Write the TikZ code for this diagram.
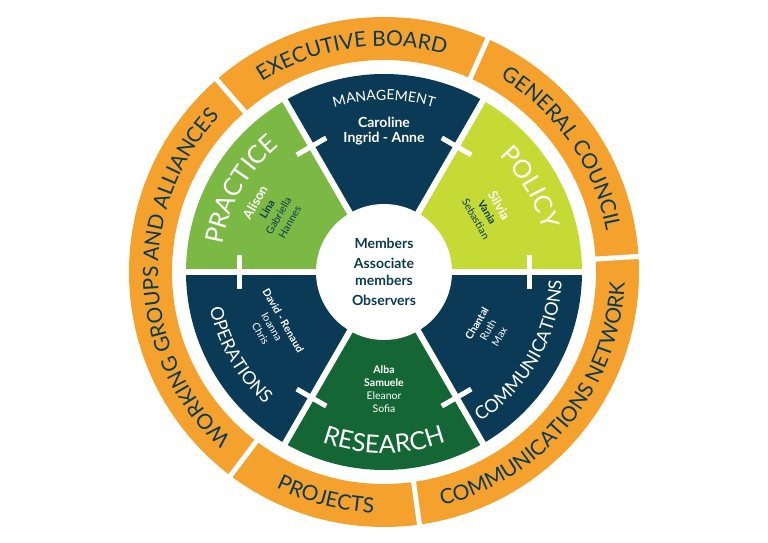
\documentclass[tikz,border=0pt]{standalone}
\usepackage{fontspec}
\setmainfont{Lato}
\usetikzlibrary{decorations.text}
\definecolor{ringorange}{HTML}{F5A12E}
\definecolor{navy}{HTML}{0B3A56}
\definecolor{leafgreen}{HTML}{7BB944}
\definecolor{lime}{HTML}{C6DA35}
\definecolor{forest}{HTML}{146634}
\tikzset{
    ringtext/.style={decorate, decoration={text along path, text align=center,
        text={|\color{navy}\fontsize{21}{21}\selectfont|#1}}},
    sectortext/.style 2 args={decorate, decoration={text along path, text align=center,
        text={|\color{white}\fontsize{#1}{#1}\selectfont|#2}}},
    names/.style={align=center, font=\fontsize{10.5}{13}\selectfont, inner sep=0pt},
    gapline/.style={white, line width=5pt},
    crossbar/.style={white, line width=5pt}
}
\begin{document}
\begin{tikzpicture}[x=1pt, y=1pt]
    \useasboundingbox (0,0) rectangle (768,543);
    \coordinate (C) at (384,271);
    % outer ring
    \fill[ringorange, even odd rule] (C) circle[radius=255] (C) circle[radius=212];
    \foreach \a in {131,66,3.5,-82,233}
        \draw[gapline] (C) ++(\a:208) -- ++(\a:52);
    % sectors
    \foreach \a/\c in {0/lime,60/navy,120/leafgreen,180/navy,240/forest,300/navy}
        \fill[\c] (C) -- ++(\a:198) arc[start angle=\a, end angle=\a+60, radius=198] -- cycle;
    \foreach \a in {0,60,...,300} {
        \draw[gapline, line width=6pt] (C) -- ++(\a:202);
        \draw[crossbar] (C) ++(\a:145) ++(\a+90:17) -- ++(\a-90:34);
    }
    \fill[white] (C) circle[radius=68];
    % ring labels
    \path[ringtext={EXECUTIVE BOARD}] (C) ++(131:226) arc[start angle=131, end angle=66, radius=226];
    \path[ringtext={GENERAL COUNCIL}] (C) ++(66:226) arc[start angle=66, end angle=3.5, radius=226];
    \path[ringtext={COMMUNICATIONS NETWORK}] (C) ++(-82:241) arc[start angle=-82, end angle=3.5, radius=241];
    \path[ringtext={PROJECTS}] (C) ++(233:241) arc[start angle=233, end angle=278, radius=241];
    \path[ringtext={WORKING GROUPS AND ALLIANCES}] (C) ++(233:226) arc[start angle=233, end angle=131, radius=226];
    % sector labels
    \path[sectortext={14}{MANAGEMENT}] (C) ++(118:172) arc[start angle=118, end angle=62, radius=172];
    \path[sectortext={25}{PRACTICE}] (C) ++(178:164) arc[start angle=178, end angle=122, radius=164];
    \path[sectortext={25}{POLICY}] (C) ++(58:164) arc[start angle=58, end angle=2, radius=164];
    \path[sectortext={18}{OPERATIONS}] (C) ++(182:178) arc[start angle=182, end angle=238, radius=178];
    \path[sectortext={25}{RESEARCH}] (C) ++(242:181) arc[start angle=242, end angle=298, radius=181];
    \path[sectortext={18}{COMMUNICATIONS}] (C) ++(302:178) arc[start angle=302, end angle=358, radius=178];
    % names
    \node[names, text=navy, font=\bfseries\fontsize{14}{17}\selectfont] (members) at (C)
        {Members\\[3pt]Associate\\members\\[3pt]Observers};
    \node[names, text=white, font=\bfseries\fontsize{14}{15}\selectfont] (mgmt) at ([yshift=141]C)
        {Caroline\\Ingrid - Anne};
    \node[names, rotate=60, text=navy] (practice) at ([shift={(-112,60)}]C)
        {\textcolor{white}{\bfseries\fontsize{13}{14}\selectfont Alison}\\\textbf{Lina}\\Gabriella\\Hannes};
    \node[names, rotate=-60, text=navy] (policy) at ([shift={(104,60)}]C)
        {\textcolor{white}{\bfseries\fontsize{13}{14}\selectfont Silvia}\\\textbf{Vania}\\Sebastian};
    \node[names, rotate=-60, text=white] (operations) at ([shift={(-112,-55)}]C)
        {\textbf{David - Renaud}\\Ioanna\\Chris};
    \node[names, rotate=60, text=white] (comms) at ([shift={(104,-58)}]C)
        {\textbf{Chantal}\\Ruth\\Max};
    \node[names, text=white] (research) at ([yshift=-117]C)
        {\textbf{Alba}\\\textbf{Samuele}\\Eleanor\\Sofia};
\end{tikzpicture}
\end{document}
